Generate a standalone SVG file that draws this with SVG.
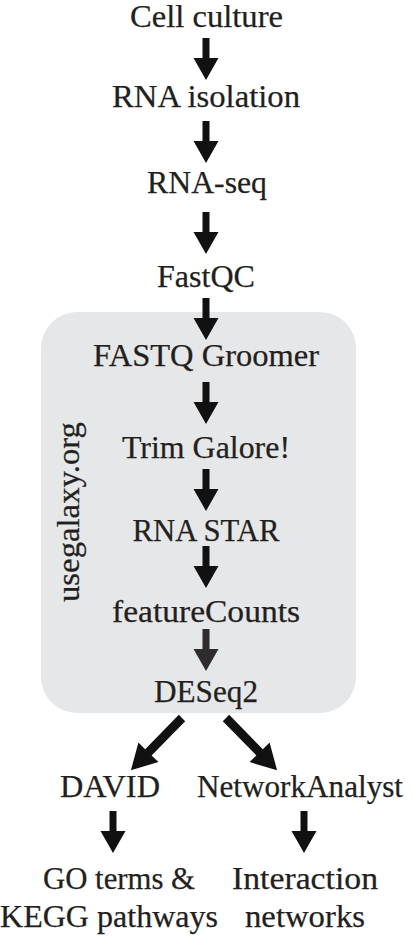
<svg xmlns="http://www.w3.org/2000/svg" xmlns:xlink="http://www.w3.org/1999/xlink" width="413" height="941" viewBox="0 0 413 941">
  <style>
    .t { font-family: 'Liberation Serif', 'Times New Roman', serif; font-size: 31px; fill: #231f20; stroke: #231f20; stroke-width: 0.25px; text-anchor: middle; }
    .arr { fill: #111; }
    .arr-g { fill: #2e2c2d; }
  </style>
  <defs>
    <path id="down" d="M-3.5,0 H3.5 V20 H12.5 L0,42 L-12.5,20 H-3.5 Z"/>
    <path id="diag" d="M-4.5,0 H4.5 V48 H14 L0,73 L-14,48 H-4.5 Z"/>
  </defs>
  <rect width="413" height="941" fill="#fff"/>

  <g id="galaxy-box">
    <rect x="41" y="312" width="315" height="401" rx="36" ry="36" fill="#e6e7e8"/>
    <text class="t" transform="translate(79,512) rotate(-90)" textLength="180" lengthAdjust="spacingAndGlyphs">usegalaxy.org</text>
  </g>

  <g id="connectors">
    <use xlink:href="#down" class="arr" transform="translate(206,38)"/>
    <use xlink:href="#down" class="arr" transform="translate(206,121)"/>
    <use xlink:href="#down" class="arr" transform="translate(206,212)"/>
    <use xlink:href="#down" class="arr" transform="translate(206,298)"/>
    <use xlink:href="#down" class="arr" transform="translate(206,382)"/>
    <use xlink:href="#down" class="arr" transform="translate(206,469)"/>
    <use xlink:href="#down" class="arr" transform="translate(206,546)"/>
    <use xlink:href="#down" class="arr-g" transform="translate(206,629)"/>
    <use xlink:href="#diag" class="arr" transform="translate(182,718) rotate(44.4)"/>
    <use xlink:href="#diag" class="arr" transform="translate(226,718) rotate(-44.4)"/>
    <use xlink:href="#down" class="arr" transform="translate(113,811)"/>
    <use xlink:href="#down" class="arr" transform="translate(304,811)"/>
  </g>

  <g id="cell-culture"><text class="t" x="206.5" y="27" textLength="153" lengthAdjust="spacingAndGlyphs">Cell culture</text></g>
  <g id="rna-isolation"><text class="t" x="206" y="107" textLength="188" lengthAdjust="spacingAndGlyphs">RNA isolation</text></g>
  <g id="rna-seq"><text class="t" x="207" y="193" textLength="120" lengthAdjust="spacingAndGlyphs">RNA-seq</text></g>
  <g id="fastqc"><text class="t" x="206" y="287" textLength="98" lengthAdjust="spacingAndGlyphs">FastQC</text></g>
  <g id="fastq-groomer"><text class="t" x="206" y="366" textLength="226" lengthAdjust="spacingAndGlyphs">FASTQ Groomer</text></g>
  <g id="trim-galore"><text class="t" x="206" y="458" textLength="168" lengthAdjust="spacingAndGlyphs">Trim Galore!</text></g>
  <g id="rna-star"><text class="t" x="206" y="541" textLength="147" lengthAdjust="spacingAndGlyphs">RNA STAR</text></g>
  <g id="featurecounts"><text class="t" x="206" y="622" textLength="188" lengthAdjust="spacingAndGlyphs">featureCounts</text></g>
  <g id="deseq2"><text class="t" x="206" y="702" textLength="104" lengthAdjust="spacingAndGlyphs">DESeq2</text></g>
  <g id="david"><text class="t" x="110" y="797" textLength="100" lengthAdjust="spacingAndGlyphs">DAVID</text></g>
  <g id="networkanalyst"><text class="t" x="300" y="797" textLength="206" lengthAdjust="spacingAndGlyphs">NetworkAnalyst</text></g>
  <g id="go-kegg">
    <text class="t" x="119" y="889" textLength="152" lengthAdjust="spacingAndGlyphs">GO terms &amp;</text>
    <text class="t" x="109" y="927" textLength="218" lengthAdjust="spacingAndGlyphs">KEGG pathways</text>
  </g>
  <g id="interaction-networks">
    <text class="t" x="305" y="889" textLength="146" lengthAdjust="spacingAndGlyphs">Interaction</text>
    <text class="t" x="305" y="927" textLength="120" lengthAdjust="spacingAndGlyphs">networks</text>
  </g>
</svg>
